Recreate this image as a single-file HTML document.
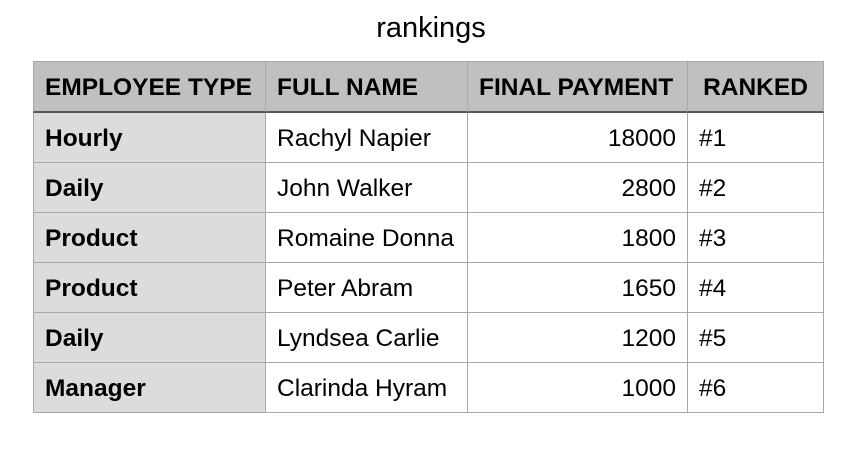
<!DOCTYPE html>
<html><head><meta charset="utf-8"><style>
body{margin:0;width:862px;height:454px;background:#fff;font-family:"Liberation Sans",sans-serif;position:relative;overflow:hidden}
#title{position:absolute;left:0;width:862px;top:12px;text-align:center;font-size:29px;color:#000}
.c{position:absolute;box-sizing:border-box;border-right:1px solid #a8a8a8;border-bottom:1px solid #a8a8a8;font-size:24.5px;color:#000;line-height:51px;padding:0 11px;white-space:nowrap}
.h{background:#c0c0c0;font-weight:bold;border-bottom:2px solid #555;font-size:24.5px}
.f{background:#dcdcdc;font-weight:bold}
.r{text-align:right}
</style></head><body>
<div id="title">rankings</div>
<div id="tbl"></div>
<script>
const headers=["EMPLOYEE TYPE","FULL NAME","FINAL PAYMENT","RANKED"];
const types=["Hourly","Daily","Product","Product","Daily","Manager"];
const names=["Rachyl Napier","John Walker","Romaine Donna","Peter Abram","Lyndsea Carlie","Clarinda Hyram"];
const payments=[18000,2800,1800,1650,1200,1000];
const ranks=["#1","#2","#3","#4","#5","#6"];
const colX=[33,266,468,688,824];
const top0=61,hh=52,rh=50;
const t=document.getElementById('tbl');
function cell(txt,ci,y,h,cls,name){
  const d=document.createElement('div');
  d.className='c '+cls;
  
  
  d.style.left=colX[ci]+'px';d.style.top=y+'px';
  d.style.width=(colX[ci+1]-colX[ci])+'px';d.style.height=h+'px';
  if(ci===0)d.style.borderLeft='1px solid #a8a8a8';
  d.textContent=txt;t.appendChild(d);
  return d;
}
headers.forEach((h,i)=>{
  cell(h,i,top0,hh,'h','header-'+h.toLowerCase().replace(/ /g,'-'));
});
document.querySelectorAll('.h').forEach((d,i)=>{d.style.borderTop='1px solid #a8a8a8';d.style.lineHeight='51px';if(i===3){d.style.textAlign='center';}});
types.forEach((tp,i)=>{
  const y=top0+hh+i*rh;
  cell(tp,0,y,rh,'f','employee-type-cell');
  cell(names[i],1,y,rh,'','full-name-cell');
  cell(String(payments[i]),2,y,rh,'r','final-payment-cell');
  cell(ranks[i],3,y,rh,'','rank-cell');
});
</script>
</body></html>
